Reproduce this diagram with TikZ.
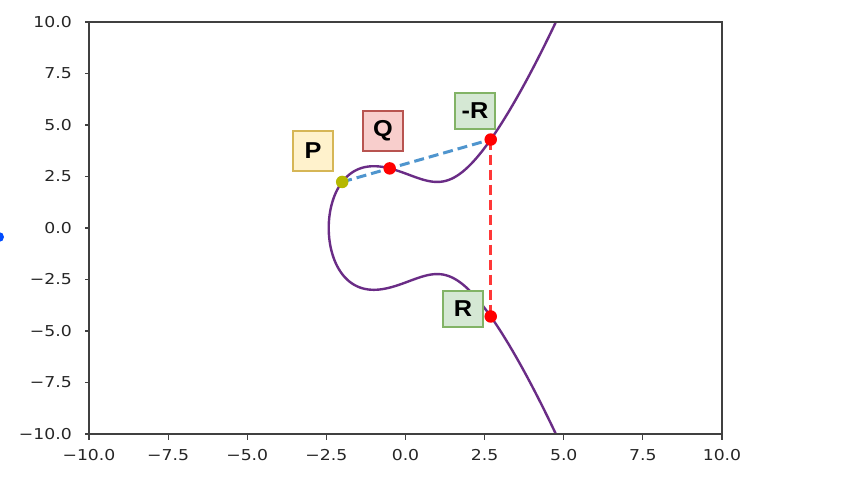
\documentclass[tikz,border=0pt]{standalone}
\usepackage{fontspec}
\setmainfont{DejaVu Sans}
\newfontfamily\labfont{Liberation Sans}
\definecolor{curvec}{HTML}{6A2C86}
\definecolor{bluedash}{HTML}{4F95CE}
\definecolor{reddash}{HTML}{FF3838}
\definecolor{olivedot}{HTML}{B5B800}
\definecolor{pfill}{HTML}{FFF2CC}\definecolor{pdraw}{HTML}{D6B656}
\definecolor{qfill}{HTML}{F8CECC}\definecolor{qdraw}{HTML}{B85450}
\definecolor{rfill}{HTML}{D5E8D4}\definecolor{rdraw}{HTML}{82B366}
\definecolor{spinec}{HTML}{404040}
\definecolor{ticktext}{HTML}{262626}
\tikzset{
  ticklab/.style={font=\fontsize{15}{15}\selectfont, text=ticktext, inner sep=0pt, xscale=1.15},
  labbox/.style={draw=#1, line width=1.5pt, minimum width=40pt, inner sep=0pt},
  labtext/.style={inner sep=0pt, xscale=1.1, font=\labfont\bfseries\fontsize{23}{23}\selectfont},
  dot/.style={circle, fill=#1, minimum size=12.5pt, inner sep=0pt},
  dashline/.style={line width=3pt, dash pattern=on 10pt off 5pt},
}
\begin{document}
\begin{tikzpicture}[x=1pt,y=-1pt]
\useasboundingbox (0,0) rectangle (868,480);
\fill[white] (0,0) rectangle (868,480);
% stray blue dot at left edge
\fill[blue!70!cyan] (-1,237) circle (5);
\begin{scope}[shift={(405.5,228)}, x=31.65pt, y=20.6pt]
  \begin{scope}
    \clip (-10,-10) rectangle (10,10);
    \draw[curvec, line width=2.4pt, line join=round]
      plot[domain=-2.6823:2.6823, samples=500, variable=\t]
      ({-2.42599+\t*\t},
       {(2*(\t>0)-1)*sqrt(max(0,(-2.42599+\t*\t)^3-3*(-2.42599+\t*\t)+7))});
  \end{scope}
  \coordinate (P) at (-2,2.23607);
  \coordinate (Q) at (-0.5,2.89396);
  \coordinate (mR) at (2.69236,4.2941);
  \coordinate (R) at (2.69236,-4.2941);
  \draw[bluedash, dashline] (P) -- (mR);
  \draw[reddash, dashline] (mR) -- (R);
  \node[dot=olivedot] (Pd) at (P) {};
  \node[dot=red] (Qd) at (Q) {};
  \node[dot=red] (mRd) at (mR) {};
  \node[dot=red] (Rd) at (R) {};
  % axes
  \draw[spinec, line width=1.2pt] (-10,-10) rectangle (10,10);
  \foreach \v/\s in {-10/{−10.0},-7.5/{−7.5},-5/{−5.0},-2.5/{−2.5},0/{0.0},2.5/{2.5},5/{5.0},7.5/{7.5},10/{10.0}}{
    \draw[spinec, line width=1.2pt] (\v,-10) -- ++(0,-6pt);
    \node[ticklab] at ([yshift=-21pt]\v,-10) {\s};
    \draw[spinec, line width=1.2pt] (-10,\v) -- ++(-4pt,0);
    \node[ticklab, anchor=east] at ([xshift=-17pt]-10,\v) {\s};
  }
\end{scope}
\node[labbox=pdraw, fill=pfill, minimum height=40pt] (Pl) at (313,151) {};
\node[labtext] at (Pl) {P};
\node[labbox=qdraw, fill=qfill, minimum height=40pt] (Ql) at (383,131) {};
\node[labtext] at (Ql) {Q};
\node[labbox=rdraw, fill=rfill, minimum height=36pt] (mRl) at (475,111) {};
\node[labtext] at (mRl) {-R};
\node[labbox=rdraw, fill=rfill, minimum height=36pt] (Rl) at (463,309) {};
\node[labtext] at (Rl) {R};
\end{tikzpicture}
\end{document}
